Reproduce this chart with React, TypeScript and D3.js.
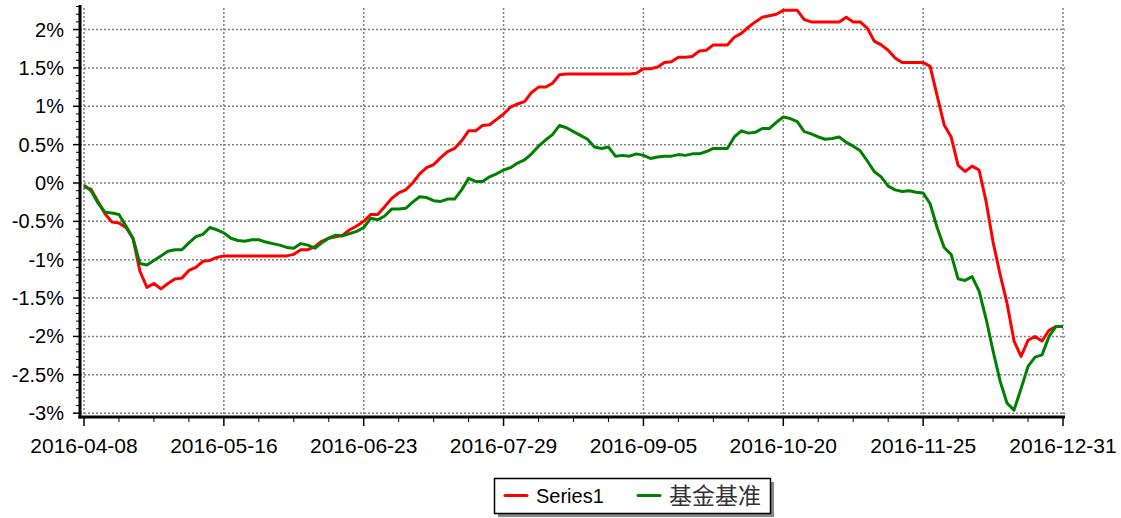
import * as d3 from 'd3';

const WIDTH = 1121;
const HEIGHT = 518;

// tick labels on the x axis (evenly spaced over the trading days)
const dateLabels = ['2016-04-08', '2016-05-16', '2016-06-23', '2016-07-29', '2016-09-05', '2016-10-20', '2016-11-25', '2016-12-31'];

// y ticks in percent
const yTicks = [2, 1.5, 1, 0.5, 0, -0.5, -1, -1.5, -2, -2.5, -3];

const seriesNames = ['Series1', '基金基准'];

// Series1, cumulative return in %
const series1 = [
    -0.05, -0.08, -0.24, -0.40, -0.51, -0.52, -0.58, -0.72, -1.15, -1.36,
    -1.31, -1.38, -1.31, -1.25, -1.24, -1.14, -1.10, -1.02, -1.01, -0.97,
    -0.95, -0.95, -0.95, -0.95, -0.95, -0.95, -0.95, -0.95, -0.95, -0.95,
    -0.93, -0.87, -0.87, -0.83, -0.76, -0.72, -0.70, -0.68, -0.61, -0.56,
    -0.50, -0.41, -0.41, -0.31, -0.20, -0.13, -0.09, 0.00, 0.12, 0.20,
    0.24, 0.33, 0.41, 0.45, 0.55, 0.68, 0.68, 0.75, 0.76, 0.83,
    0.90, 0.99, 1.03, 1.06, 1.18, 1.25, 1.25, 1.30, 1.41, 1.42,
    1.42, 1.42, 1.42, 1.42, 1.42, 1.42, 1.42, 1.42, 1.42, 1.43,
    1.49, 1.49, 1.51, 1.57, 1.58, 1.64, 1.64, 1.65, 1.72, 1.73,
    1.80, 1.80, 1.80, 1.90, 1.95, 2.03, 2.10, 2.16, 2.18, 2.20,
    2.25, 2.25, 2.25, 2.13, 2.10, 2.10, 2.10, 2.10, 2.10, 2.16,
    2.10, 2.10, 2.02, 1.85, 1.80, 1.73, 1.63, 1.57, 1.57, 1.57,
    1.57, 1.52, 1.14, 0.76, 0.60, 0.23, 0.15, 0.22, 0.17, -0.24,
    -0.77, -1.19, -1.57, -2.06, -2.26, -2.05, -2.00, -2.06, -1.92, -1.87,
    -1.87,
];

// benchmark (基金基准), cumulative return in %
const benchmark = [
    -0.03, -0.10, -0.26, -0.38, -0.39, -0.41, -0.56, -0.72, -1.05, -1.07,
    -1.01, -0.95, -0.89, -0.87, -0.87, -0.78, -0.70, -0.67, -0.58, -0.61,
    -0.65, -0.72, -0.75, -0.76, -0.74, -0.74, -0.77, -0.79, -0.81, -0.84,
    -0.85, -0.79, -0.81, -0.85, -0.78, -0.72, -0.68, -0.69, -0.66, -0.63,
    -0.58, -0.46, -0.48, -0.43, -0.34, -0.34, -0.33, -0.25, -0.18, -0.19,
    -0.23, -0.24, -0.21, -0.21, -0.09, 0.06, 0.02, 0.02, 0.08, 0.12,
    0.17, 0.20, 0.26, 0.30, 0.38, 0.48, 0.56, 0.63, 0.75, 0.72,
    0.67, 0.62, 0.57, 0.47, 0.45, 0.47, 0.35, 0.36, 0.35, 0.38,
    0.36, 0.32, 0.34, 0.35, 0.35, 0.37, 0.36, 0.38, 0.38, 0.41,
    0.45, 0.45, 0.45, 0.60, 0.68, 0.65, 0.66, 0.71, 0.71, 0.79,
    0.86, 0.84, 0.80, 0.67, 0.64, 0.60, 0.57, 0.58, 0.60, 0.53,
    0.48, 0.42, 0.29, 0.15, 0.08, -0.04, -0.09, -0.11, -0.10, -0.12,
    -0.13, -0.27, -0.58, -0.84, -0.93, -1.25, -1.27, -1.22, -1.41, -1.77,
    -2.19, -2.58, -2.87, -2.96, -2.68, -2.39, -2.27, -2.24, -2.00, -1.87,
    -1.87,
];

const FONT = '"Liberation Sans", Arial, sans-serif';
const AXIS_LEFT = 80;
const AXIS_RIGHT = 1065;
const AXIS_TOP = 5;
const AXIS_BOTTOM = 417;

export default function App() {
    const n = series1.length - 1;

    const xScale = d3.scaleLinear().domain([0, n]).range([84, 1063]);
    const yScale = d3.scaleLinear().domain([-3.05, 2.32]).range([AXIS_BOTTOM, AXIS_TOP]);

    const majorIdx = dateLabels.map((_, i) => (i * n) / (dateLabels.length - 1));
    const minorIdx = d3.range(0, n + 0.001, n / 28).filter((_, i) => i % 4 !== 0);
    const minorY = d3.range(-30, 24).map(v => v / 10).filter(v => Math.abs(v * 2 - Math.round(v * 2)) > 0.01);

    const line = d3
        .line<number>()
        .x((_, i) => xScale(i))
        .y(d => yScale(d));

    const fmt = (v: number) => `${v}%`;

    return (
        <div style={{ position: 'absolute', left: 0, top: 0 }}>
            <svg width={WIDTH} height={HEIGHT} style={{ display: 'block', background: '#fff' }}>
                {/* grid */}
                {majorIdx.map((d, i) => (
                    <line
                        key={'vg' + i}
                        x1={xScale(d)}
                        x2={xScale(d)}
                        y1={8}
                        y2={AXIS_BOTTOM}
                        stroke="#808080"
                        strokeWidth={1.5}
                        strokeDasharray="2,2"
                    />
                ))}
                {yTicks.map((v, i) => (
                    <line
                        key={'hg' + i}
                        x1={AXIS_LEFT}
                        x2={AXIS_RIGHT}
                        y1={yScale(v)}
                        y2={yScale(v)}
                        stroke="#808080"
                        strokeWidth={1.5}
                        strokeDasharray="2,2"
                    />
                ))}

                {/* series */}
                <path d={line(series1) ?? ''} fill="none" stroke="#ff0000" strokeWidth={3} strokeLinejoin="round" />
                <path d={line(benchmark) ?? ''} fill="none" stroke="#008000" strokeWidth={3} strokeLinejoin="round" />

                {/* y axis */}
                <line x1={AXIS_LEFT} x2={AXIS_LEFT} y1={AXIS_TOP} y2={AXIS_BOTTOM + 1.5} stroke="#000" strokeWidth={3} />
                {yTicks.map((v, i) => (
                    <g key={'yt' + i}>
                        <line x1={AXIS_LEFT - 7} x2={AXIS_LEFT} y1={yScale(v)} y2={yScale(v)} stroke="#000" strokeWidth={1.5} />
                        <text
                            x={64}
                            y={yScale(v)}
                            textAnchor="end"
                            dominantBaseline="central"
                            fontSize={20}
                            fontFamily={FONT}
                            fill="#000"
                        >
                            {fmt(v)}
                        </text>
                    </g>
                ))}
                {minorY.map((v, i) => (
                    <line key={'ym' + i} x1={AXIS_LEFT - 4} x2={AXIS_LEFT} y1={yScale(v)} y2={yScale(v)} stroke="#000" strokeWidth={1} />
                ))}

                {/* x axis */}
                <line x1={AXIS_LEFT - 1.5} x2={AXIS_RIGHT} y1={AXIS_BOTTOM} y2={AXIS_BOTTOM} stroke="#000" strokeWidth={3} />
                {majorIdx.map((d, i) => (
                    <g key={'xt' + i}>
                        <line x1={xScale(d)} x2={xScale(d)} y1={AXIS_BOTTOM} y2={AXIS_BOTTOM + 9} stroke="#000" strokeWidth={1.5} />
                        <text
                            x={xScale(d)}
                            y={453}
                            textAnchor="middle"
                            fontSize={21}
                            fontFamily={FONT}
                            fill="#000"
                        >
                            {dateLabels[i]}
                        </text>
                    </g>
                ))}
                {minorIdx.map((d, i) => (
                    <line key={'xm' + i} x1={xScale(d)} x2={xScale(d)} y1={AXIS_BOTTOM} y2={AXIS_BOTTOM + 5} stroke="#000" strokeWidth={1} />
                ))}

                {/* legend */}
                <g>
                    <rect x={498} y={482} width={276} height={35} fill="#888" />
                    <rect x={494.5} y={478.5} width={276} height={35} fill="#fff" stroke="#000" strokeWidth={1.5} />
                    <line x1={505} x2={527} y1={495.5} y2={495.5} stroke="#ff0000" strokeWidth={3} strokeLinecap="round" />
                    <text x={536} y={503} fontSize={20} fontFamily={FONT} fill="#000">
                        {seriesNames[0]}
                    </text>
                    <line x1={638} x2={660} y1={495.5} y2={495.5} stroke="#008000" strokeWidth={3} strokeLinecap="round" />
                    <text x={669} y={504} fontSize={23} fontFamily={'"Noto Sans CJK SC", sans-serif'} fill="#333">
                        {seriesNames[1]}
                    </text>
                </g>
            </svg>
        </div>
    );
}
